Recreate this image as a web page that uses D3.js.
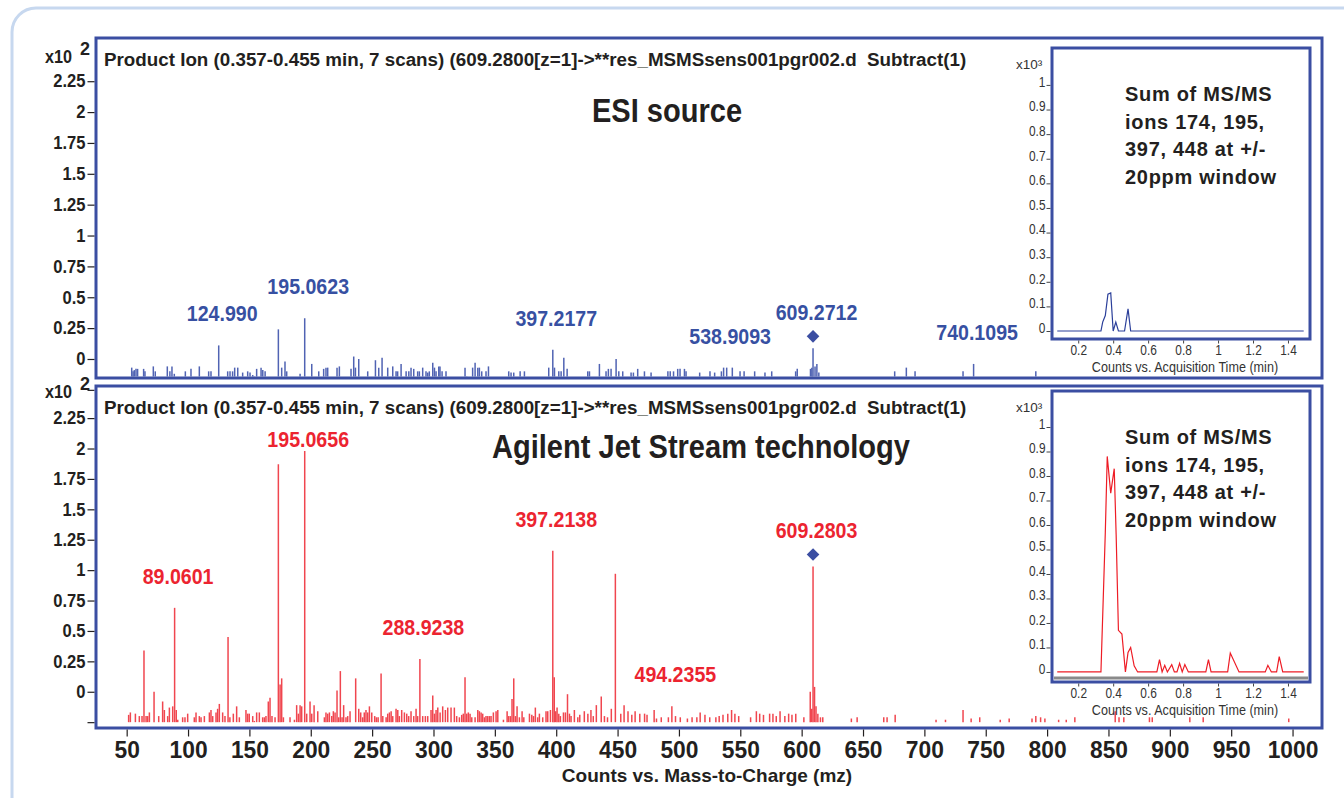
<!DOCTYPE html>
<html>
<head>
<meta charset="utf-8">
<script src="https://cdn.jsdelivr.net/npm/d3@7"></script>
<style>
body { margin: 0; background: #fff; }
svg { display: block; }
text { font-family: "Liberation Sans", Arial, sans-serif; }
</style>
</head>
<body>
<script>
// ---- data (intensity in the axis units, x10^2 counts) ----
var mzTicks = [50,100,150,200,250,300,350,400,450,500,550,600,650,700,750,800,850,900,950,1000];
var countTicks = [-0.25,0,0.25,0.5,0.75,1,1.25,1.5,1.75,2,2.25];
var timeTicks = [0.2,0.4,0.6,0.8,1,1.2,1.4];
var ticTicks = [0,0.1,0.2,0.3,0.4,0.5,0.6,0.7,0.8,0.9,1];

// ESI source spectrum [m/z, counts]
var esiPeaks = [[54.1,-0.07],[55.2,-0.10],[56.2,-0.09],[57.6,-0.08],[58.9,-0.08],[63.8,-0.08],[64.9,-0.10],
  [71.7,-0.06],[73.3,-0.10],[83.1,-0.06],[85.2,-0.10],[86.9,-0.06],[88.8,-0.12],[97.8,-0.10],[102.4,-0.08],
  [109.2,-0.06],[116.8,-0.10],[118.7,-0.10],[124.99,0.11],[132.3,-0.10],[134.2,-0.10],[136.3,-0.10],[138.0,-0.07],
  [140.5,-0.07],[144.5,-0.11],[148.6,-0.10],[150.5,-0.11],[152.7,-0.13],[154.0,-0.14],[155.9,-0.08],[159.5,-0.07],
  [160.9,-0.09],[162.8,-0.10],[173.6,0.24],[176.3,-0.07],[179.0,-0.02],[180.4,-0.10],[191.3,-0.12],[195.06,0.33],
  [200.8,-0.04],[206.5,-0.10],[210.5,-0.08],[212.4,-0.07],[213.8,-0.07],[221.4,-0.07],[223.3,-0.06],[232.8,-0.08],
  [235.0,0.02],[236.4,-0.07],[239.1,0.0],[246.4,-0.10],[252.7,-0.01],[255.4,-0.07],[258.1,0.01],[262.7,-0.07],
  [266.8,-0.06],[269.5,-0.10],[270.8,-0.10],[273.6,-0.04],[277.7,-0.10],[279.9,-0.10],[281.7,-0.07],[283.9,-0.08],
  [287.1,-0.10],[288.5,-0.10],[291.2,-0.07],[293.9,-0.10],[295.3,-0.11],[296.6,-0.10],[299.4,-0.03],[300.8,-0.07],
  [302.1,-0.10],[304.3,-0.06],[305.3,-0.06],[307.0,-0.10],[310.2,-0.10],[325.7,-0.07],[327.1,-0.14],[331.9,-0.07],
  [333.9,-0.03],[336.1,-0.07],[337.4,-0.07],[339.3,-0.10],[342.8,-0.10],[344.8,-0.06],[361.3,-0.10],[363.2,-0.11],
  [365.4,-0.11],[370.6,-0.10],[374.1,-0.10],[393.9,-0.07],[397.22,0.075],[398.6,-0.07],[402.1,-0.10],[404.0,-0.10],
  [406.2,0.01],[408.9,-0.08],[425.7,-0.10],[427.1,-0.10],[435.2,-0.04],[440.6,-0.10],[442.5,-0.08],[444.7,-0.08],
  [448.8,0.0],[451.0,-0.10],[454.2,-0.10],[461.0,-0.11],[462.9,-0.11],[466.4,-0.08],[471.9,-0.10],[477.3,-0.11],
  [491.0,-0.10],[492.9,-0.10],[495.6,-0.10],[499.0,-0.08],[500.9,-0.08],[504.5,-0.08],[505.8,-0.10],[516.9,-0.11],
  [525.3,-0.10],[529.1,-0.11],[534.6,-0.10],[536.4,-0.07],[538.91,-0.07],[543.5,-0.07],[549.8,-0.10],[553.1,-0.10],
  [561.7,-0.10],[570.1,-0.11],[575.6,-0.10],[595.1,-0.10],[596.4,-0.08],[607.2,-0.08],[608.3,-0.07],[609.27,0.086],
  [610.9,-0.06],[612.4,-0.04],[614.0,-0.11],[675.8,-0.10],[685.3,-0.07],[692.4,-0.10],[731.5,-0.10],[740.11,-0.04],
  [790.8,-0.10]];
var esiLabels = ["124.990","195.0623","397.2177","538.9093","609.2712","740.1095"];

// Agilent Jet Stream spectrum [m/z, counts]
var ajsPeaks = [[51.6,-0.19],[53.0,-0.17],[57.1,-0.18],[60.3,-0.20],[62.5,-0.20],[64.1,0.34],[65.8,-0.20],[67.1,-0.20],
  [68.5,-0.17],[72.3,0.0],[76.1,-0.20],[79.3,-0.08],[80.7,-0.15],[83.4,-0.20],[84.8,-0.13],[87.5,-0.12],[89.06,0.69],
  [90.4,-0.15],[91.6,-0.23],[95.6,-0.21],[97.5,-0.21],[99.7,-0.18],[105.1,-0.21],[106.5,-0.17],[109.2,-0.20],
  [110.6,-0.21],[113.3,-0.20],[117.4,-0.17],[118.7,-0.15],[120.1,-0.20],[122.8,-0.17],[124.1,-0.14],[125.5,-0.10],
  [128.2,-0.17],[130.1,-0.20],[132.6,0.45],[134.1,-0.21],[136.9,-0.18],[139.6,-0.12],[141.8,-0.21],[147.2,-0.15],
  [148.6,-0.18],[149.9,-0.18],[152.7,-0.20],[154.0,-0.24],[155.9,-0.17],[158.1,-0.17],[160.8,-0.21],[162.2,-0.21],
  [163.5,-0.20],[165.4,-0.08],[166.8,-0.05],[168.4,-0.20],[170.9,-0.21],[173.6,1.87],[175.0,0.06],[176.3,0.11],
  [177.7,-0.21],[183.1,-0.21],[186.7,-0.23],[188.5,-0.11],[189.9,-0.18],[191.3,-0.11],[192.6,-0.12],[195.07,1.98],
  [196.7,-0.18],[199.4,-0.08],[200.8,-0.18],[202.7,-0.11],[205.7,-0.16],[211.1,-0.21],[212.4,-0.17],[213.8,-0.18],
  [215.2,-0.17],[217.1,-0.20],[218.4,-0.16],[219.8,-0.17],[221.4,0.01],[222.8,-0.21],[224.1,0.17],[225.5,-0.21],
  [226.8,-0.11],[228.7,-0.21],[230.1,-0.20],[232.0,-0.16],[236.6,0.11],[239.1,-0.14],[240.7,-0.17],[242.3,-0.21],
  [243.6,-0.17],[245.0,-0.15],[246.4,-0.17],[247.8,-0.12],[249.7,-0.17],[252.1,-0.20],[253.5,-0.21],[254.9,-0.21],
  [257.3,0.15],[258.7,-0.20],[261.4,-0.21],[262.7,-0.18],[264.1,-0.17],[265.5,-0.16],[266.8,-0.20],[269.5,-0.14],
  [270.9,-0.15],[272.2,-0.20],[274.1,-0.15],[276.3,-0.17],[278.2,-0.18],[279.8,-0.20],[281.7,-0.16],[283.9,-0.20],
  [285.8,-0.14],[287.1,-0.20],[288.92,0.27],[291.2,-0.20],[293.4,-0.20],[295.3,-0.20],[298.0,-0.15],[299.4,-0.03],
  [300.8,-0.18],[302.1,-0.15],[303.5,-0.13],[305.4,-0.17],[307.5,-0.12],[309.7,-0.15],[311.6,-0.13],[314.3,-0.13],
  [317.0,-0.13],[318.9,-0.20],[321.1,-0.21],[323.0,-0.19],[324.3,-0.18],[325.7,0.12],[327.1,-0.18],[328.4,-0.17],
  [329.8,-0.18],[331.2,-0.21],[333.9,-0.21],[336.1,-0.15],[337.4,-0.16],[338.8,-0.17],[340.1,-0.18],[341.5,-0.21],
  [342.8,-0.20],[344.2,-0.20],[345.6,-0.20],[346.9,-0.20],[348.8,-0.17],[351.0,-0.16],[352.4,-0.15],[357.0,-0.23],
  [360.0,-0.16],[361.3,-0.20],[362.7,-0.20],[364.0,-0.06],[365.4,0.11],[366.8,-0.20],[368.1,-0.12],[370.0,-0.21],
  [372.2,-0.16],[373.6,-0.21],[378.2,-0.18],[380.1,-0.19],[381.5,-0.20],[383.0,-0.13],[384.9,-0.21],[386.3,-0.18],
  [389.0,-0.21],[391.7,-0.16],[393.1,-0.16],[395.3,-0.15],[397.21,1.16],[398.4,0.12],[399.6,-0.16],[400.7,-0.13],
  [402.1,-0.18],[403.4,-0.20],[405.9,-0.17],[407.5,-0.17],[409.2,-0.02],[410.8,-0.18],[412.1,-0.20],[414.8,-0.15],
  [417.6,-0.21],[419.2,-0.19],[422.9,-0.16],[425.8,-0.18],[428.3,-0.15],[430.2,-0.20],[432.7,-0.11],[436.7,-0.04],
  [439.3,-0.20],[441.8,-0.21],[444.9,-0.14],[448.2,0.97],[452.6,-0.18],[455.3,-0.11],[458.5,-0.16],[461.6,-0.19],
  [464.3,-0.16],[468.1,-0.18],[472.0,-0.18],[474.0,-0.19],[479.8,-0.15],[481.7,-0.22],[485.6,-0.21],[491.4,-0.21],
  [494.24,-0.12],[497.2,-0.20],[501.1,-0.21],[506.9,-0.22],[510.7,-0.21],[514.6,-0.21],[517.3,-0.17],[521.2,-0.19],
  [525.1,-0.21],[530.1,-0.21],[532.8,-0.20],[535.9,-0.19],[539.8,-0.18],[542.9,-0.15],[545.6,-0.18],[548.7,-0.20],
  [558.4,-0.21],[563.1,-0.16],[565.8,-0.18],[568.9,-0.19],[573.9,-0.18],[576.6,-0.18],[579.3,-0.20],[582.4,-0.16],
  [586.3,-0.20],[589.4,-0.18],[592.1,-0.19],[595.2,-0.18],[601.8,-0.21],[607.0,0.0],[608.2,-0.14],[609.28,1.03],
  [610.5,0.04],[611.7,-0.12],[613.2,-0.18],[615.3,-0.21],[617.2,-0.21],[640.5,-0.22],[645.2,-0.21],[666.9,-0.21],
  [669.6,-0.21],[676.2,-0.19],[709.5,-0.23],[717.2,-0.23],[731.5,-0.15],[738.1,-0.22],[745.1,-0.21],[761.8,-0.23],
  [769.1,-0.22],[787.7,-0.22],[790.8,-0.20],[794.7,-0.21],[798.2,-0.22],[809.4,-0.23],[815.6,-0.23],[822.6,-0.21],
  [855.5,-0.16],[858.6,-0.21],[862.5,-0.21],[883.4,-0.21],[885.7,-0.21],[916.3,-0.21],[927.2,-0.21],[996.9,-0.22]];
var ajsLabels = ["89.0601","195.0656","288.9238","397.2138","494.2355","609.2803"];

var precursorMz = 609.28;

// summed MS/MS ion chromatograms [min, x10^3 counts]
var esiTic = [[0.08,0],[0.33,0],[0.34,0.036],[0.355,0.063],[0.37,0.15],[0.386,0.155],[0.40,0],[0.415,0.036],
  [0.43,0],[0.465,0],[0.485,0.09],[0.50,0],[1.49,0]];
var ajsTic = [[0.08,0],[0.33,0],[0.355,0.57],[0.366,0.88],[0.386,0.73],[0.406,0.83],[0.417,0.56],[0.43,0.17],
  [0.45,0.155],[0.47,0],[0.485,0.08],[0.50,0.10],[0.52,0.025],[0.54,0],[0.65,0],[0.665,0.05],[0.68,0],[0.695,0.027],
  [0.71,0],[0.735,0.03],[0.75,0],[0.765,0],[0.78,0.035],[0.795,0],[0.81,0.03],[0.83,0],[0.93,0],[0.945,0.05],
  [0.96,0],[1.055,0],[1.07,0.077],[1.12,0],[1.27,0],[1.285,0.027],[1.305,0],[1.335,0],[1.35,0.063],[1.37,0],[1.49,0]];

var header = "Product Ion (0.357-0.455 min, 7 scans) (609.2800[z=1]->**res_MSMSsens001pgr002.d  Subtract(1)";
var insetNote = ["Sum of MS/MS", "ions 174, 195,", "397, 448 at +/-", "20ppm window"];

// ---- drawing ----
var width = 1344, height = 798;
var FRAME = "#3b4ea2", INK = "#231f20";

// squeeze glyphs horizontally, the original uses a condensed face
let condense = function(sel, k) {
  sel.each(function() {
    let len = this.getComputedTextLength();
    d3.select(this).attr("textLength", len * k).attr("lengthAdjust", "spacingAndGlyphs");
  });
};

var svg = d3.select("body").append("svg")
    .attr("width", width)
    .attr("height", height);

svg.append("rect")
    .attr("x", 12).attr("y", 8)
    .attr("width", 1360).attr("height", 830)
    .attr("rx", 24)
    .attr("fill", "#fff")
    .attr("stroke", "#c7d8ef")
    .attr("stroke-width", 3);

var x = d3.scaleLinear().domain([25, 1024]).range([96, 1322]);

let draw_panel = function(p) {
  let y = d3.scaleLinear().domain(p.domain).range([p.bottom, p.top]);
  let g = svg.append("g");

  let base = Math.min(y(p.baseline), p.bottom - 1.5);
  g.append("g")
    .selectAll("line")
    .data(p.peaks)
    .join("line")
      .attr("x1", d => x(d[0])).attr("x2", d => x(d[0]))
      .attr("y1", base).attr("y2", d => y(d[1]))
      .attr("stroke", p.barColor)
      .attr("stroke-width", 1.5);

  g.append("rect")
    .attr("x", x.range()[0]).attr("y", p.top)
    .attr("width", x.range()[1] - x.range()[0]).attr("height", p.bottom - p.top)
    .attr("fill", "none").attr("stroke", FRAME).attr("stroke-width", 3);

  let ax = g.append("g")
    .attr("transform", `translate(${x.range()[0] - 1.5},0)`)
    .call(d3.axisLeft(y).tickValues(countTicks).tickFormat(d => d < 0 ? "" : d).tickSize(7).tickPadding(2));
  ax.select(".domain").remove();
  ax.selectAll("line").attr("stroke", INK).attr("stroke-width", 1.2);
  ax.selectAll("text").attr("fill", INK).attr("font-size", 18).attr("font-weight", "bold").call(condense, 0.92);

  g.append("text").attr("x", 45).attr("y", p.x10Y)
    .attr("font-size", 18).attr("font-weight", "bold").attr("fill", INK).text("x10").call(condense, 0.9);
  g.append("text").attr("x", 80).attr("y", p.x10Y - 8)
    .attr("font-size", 18).attr("font-weight", "bold").attr("fill", INK).text("2");

  g.append("text").attr("x", 104).attr("y", p.top + 28)
    .style("white-space", "pre")
    .attr("font-size", 18.8).attr("font-weight", "bold").attr("fill", INK).text(header);

  g.append("text").attr("x", p.titleX).attr("y", p.titleY)
    .attr("text-anchor", "middle")
    .attr("font-size", 33).attr("font-weight", "bold").attr("fill", INK)
    .text(p.title)
    .call(condense, 0.88);

  // peak annotations, placed above the peak they name
  let peakTop = function(mz) {
    let best = d3.least(p.peaks, d => Math.abs(d[0] - mz));
    return y(best[1]);
  };
  let labels = p.labels.map(s => {
    let mz = +s;
    let top = peakTop(mz);
    let pre = Math.abs(mz - precursorMz) < 1;
    let ly = pre ? top - 12 - 16 : Math.max(top - 24, p.top + 61);
    return {s, mz, top, pre, ly};
  });
  g.append("g").selectAll("text")
    .data(labels)
    .join("text")
      .attr("x", d => x(d.mz) + 3.5)
      .attr("y", d => d.ly)
      .attr("text-anchor", "middle")
      .attr("font-size", 22).attr("font-weight", "bold")
      .attr("fill", p.labelColor)
      .text(d => d.s)
      .call(condense, 0.89);
  g.append("g").selectAll("path")
    .data(labels.filter(d => d.pre))
    .join("path")
      .attr("d", d3.symbol(d3.symbolSquare, 80))
      .attr("transform", d => `translate(${x(d.mz)},${d.top - 12}) rotate(45)`)
      .attr("fill", FRAME);
  return y;
};

draw_panel({top: 38, bottom: 378, domain: [-0.154, 2.6], baseline: -0.154, x10Y: 63,
  peaks: esiPeaks, barColor: "#5063b3", labels: esiLabels, labelColor: "#3750a2",
  title: "ESI source", titleX: 667, titleY: 122});

draw_panel({top: 386, bottom: 728, domain: [-0.298, 2.514], baseline: -0.25, x10Y: 398,
  peaks: ajsPeaks, barColor: "#f0464f", labels: ajsLabels, labelColor: "#ec2430",
  title: "Agilent Jet Stream technology", titleX: 701, titleY: 458});

// m/z axis
var xa = svg.append("g")
    .attr("transform", "translate(0,729.5)")
    .call(d3.axisBottom(x).tickValues(mzTicks).tickFormat(d3.format("d")).tickSize(7).tickPadding(4));
xa.select(".domain").remove();
xa.selectAll("line").attr("stroke", INK).attr("stroke-width", 1.2);
xa.selectAll("text").attr("fill", INK).attr("font-size", 24).attr("font-weight", "bold").call(condense, 0.95);

svg.append("text").attr("x", 707).attr("y", 782)
    .attr("text-anchor", "middle")
    .attr("font-size", 19).attr("font-weight", "bold").attr("fill", INK)
    .text("Counts vs. Mass-to-Charge (mz)");

// chromatogram insets
var tx = d3.scaleLinear().domain([0.05, 1.526]).range([1052, 1310]);

let draw_inset = function(p) {
  let ty = d3.scaleLinear().domain(p.domain).range([p.bottom, p.top]);
  let g = svg.append("g");

  g.append("rect")
    .attr("x", tx.range()[0]).attr("y", p.top)
    .attr("width", tx.range()[1] - tx.range()[0]).attr("height", p.bottom - p.top)
    .attr("fill", "#fff");

  if (p.axisLine) {
    g.append("line")
      .attr("x1", tx.range()[0] + 2).attr("x2", tx.range()[1] - 2)
      .attr("y1", p.bottom - 4).attr("y2", p.bottom - 4)
      .attr("stroke", "#8a8a8a").attr("stroke-width", 3);
  }

  g.append("path")
    .datum(p.tic)
    .attr("d", d3.line().x(d => tx(d[0])).y(d => ty(d[1])))
    .attr("fill", "none")
    .attr("stroke", p.color)
    .attr("stroke-width", 1.2);

  g.append("rect")
    .attr("x", tx.range()[0]).attr("y", p.top)
    .attr("width", tx.range()[1] - tx.range()[0]).attr("height", p.bottom - p.top)
    .attr("fill", "none").attr("stroke", FRAME).attr("stroke-width", 3);

  let ya = g.append("g")
    .attr("transform", `translate(${tx.range()[0] - 1.5},0)`)
    .call(d3.axisLeft(ty).tickValues(ticTicks).tickFormat(d3.format("~g")).tickSize(4).tickPadding(1));
  ya.select(".domain").remove();
  ya.selectAll("line").attr("stroke", "#444");
  ya.selectAll("text").attr("fill", "#333").attr("font-size", 14).attr("dy", "0.1em").call(condense, 0.85);

  let xa = g.append("g")
    .attr("transform", `translate(0,${p.bottom + 1.5})`)
    .call(d3.axisBottom(tx).tickValues(timeTicks).tickFormat(d3.format("~g")).tickSize(3).tickPadding(2));
  xa.select(".domain").remove();
  xa.selectAll("line").attr("stroke", "#444");
  xa.selectAll("text").attr("fill", "#333").attr("font-size", 14).call(condense, 0.85);

  g.append("text").attr("x", 1185).attr("y", p.bottom + 33)
    .attr("text-anchor", "middle")
    .attr("font-size", 15).attr("fill", "#333")
    .text("Counts vs. Acquisition Time (min)")
    .call(condense, 0.84);

  g.append("text").attr("x", 1016).attr("y", p.top + 21)
    .attr("font-size", 13.5).attr("fill", "#333").text("x10\u00b3");

  g.append("g").selectAll("text")
    .data(insetNote)
    .join("text")
      .attr("x", 1125)
      .attr("y", (d, i) => p.top + 53 + i * 27.5)
      .attr("font-size", 20).attr("font-weight", "bold").attr("fill", INK)
      .attr("letter-spacing", 0.7)
      .text(d => d);
};

draw_inset({top: 48, bottom: 339, domain: [-0.0325, 1.15], tic: esiTic, color: "#2b3f9a", axisLine: false});
draw_inset({top: 391, bottom: 682, domain: [-0.041, 1.147], tic: ajsTic, color: "#ee1c25", axisLine: true});
</script>
</body>
</html>
